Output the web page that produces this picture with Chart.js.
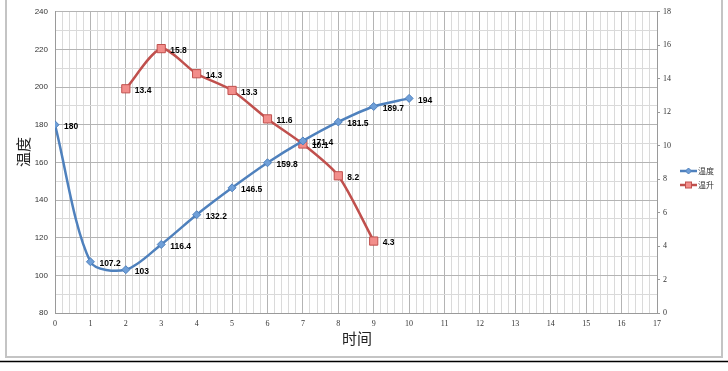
<!DOCTYPE html>
<html>
<head>
<meta charset="utf-8">
<script src="https://cdn.jsdelivr.net/npm/chart.js@4/dist/chart.umd.min.js"></script>
<style>
  html, body { margin: 0; padding: 0; background: #fff; }
  #wrap { position: relative; width: 728px; height: 371px; }
  canvas { display: block; }
</style>
</head>
<body>
<div id="wrap"><canvas id="c" width="728" height="371"></canvas></div>
<script>
// ---- data ----
const timeTemp = [0, 1, 2, 3, 4, 5, 6, 7, 8, 9, 10];
const tempValues = [180, 107.2, 103, 116.4, 132.2, 146.5, 159.8, 171.4, 181.5, 189.7, 194];
const timeRise = [2, 3, 4, 5, 6, 7, 8, 9];
const riseValues = [13.4, 15.8, 14.3, 13.3, 11.6, 10.1, 8.2, 4.3];
const seriesNames = ['温度', '温升'];
const xTitle = '时间';
const yTitle = '温度';

const BLUE = '#4F81BD';
const RED = '#C0504D';

const isMult = (v, m) => Math.abs(v / m - Math.round(v / m)) < 1e-6;

const framePlugin = {
  id: 'frame',
  beforeDraw(chart) {
    const ctx = chart.ctx;
    ctx.save();
    ctx.fillStyle = '#fff';
    ctx.fillRect(0, 0, chart.width, chart.height);
    ctx.strokeStyle = '#c4c4c4';
    ctx.lineWidth = 2;
    ctx.strokeRect(6, -3, 716, 360);
    ctx.strokeStyle = '#000';
    ctx.lineWidth = 1.5;
    ctx.beginPath();
    ctx.moveTo(0, 361.5);
    ctx.lineTo(chart.width, 361.5);
    ctx.stroke();
    ctx.restore();
  },
  afterDraw(chart) {
    const ctx = chart.ctx;
    ctx.save();
    ctx.fillStyle = '#222';
    ctx.font = '15px "Noto Sans CJK SC"';
    ctx.textAlign = 'center';
    ctx.textBaseline = 'middle';
    ctx.fillText(xTitle, 357, 338);
    ctx.translate(23, 152);
    ctx.rotate(-Math.PI / 2);
    ctx.fillText(yTitle, 0, 0);
    ctx.restore();

    // legend
    ctx.save();
    const items = [
      { name: seriesNames[0], color: BLUE, fill: '#6f9fd8', style: 'diamond', y: 171 },
      { name: seriesNames[1], color: RED, fill: '#F28E8B', style: 'square', y: 185 }
    ];
    items.forEach(it => {
      ctx.strokeStyle = it.color;
      ctx.lineWidth = 2.5;
      ctx.beginPath();
      ctx.moveTo(680, it.y);
      ctx.lineTo(697, it.y);
      ctx.stroke();
      ctx.fillStyle = it.fill;
      ctx.lineWidth = 1;
      ctx.strokeStyle = it.color;
      if (it.style === 'diamond') {
        ctx.beginPath();
        ctx.moveTo(688.5, it.y - 3);
        ctx.lineTo(691.5, it.y);
        ctx.lineTo(688.5, it.y + 3);
        ctx.lineTo(685.5, it.y);
        ctx.closePath();
        ctx.fill();
        ctx.stroke();
      } else {
        ctx.fillRect(685.5, it.y - 3, 6, 6);
        ctx.strokeRect(685.5, it.y - 3, 6, 6);
      }
      ctx.fillStyle = '#333';
      ctx.font = '8px "Noto Sans CJK SC"';
      ctx.textAlign = 'left';
      ctx.textBaseline = 'middle';
      ctx.fillText(it.name, 698, it.y);
    });
    ctx.restore();
  }
};

const labelPlugin = {
  id: 'dataLabels',
  afterDatasetsDraw(chart) {
    const ctx = chart.ctx;
    ctx.save();
    ctx.fillStyle = '#000';
    ctx.font = 'bold 8.5px "Liberation Sans"';
    ctx.textAlign = 'left';
    ctx.textBaseline = 'middle';
    chart.data.datasets.forEach((ds, i) => {
      const meta = chart.getDatasetMeta(i);
      meta.data.forEach((el, j) => {
        ctx.fillText(String(ds.data[j].y), el.x + 9, el.y + 2);
      });
    });
    ctx.restore();
  }
};

const gridColor = (ctx, major) => isMult(ctx.tick.value, major) ? '#b4b4b4' : '#dadada';

new Chart(document.getElementById('c'), {
  type: 'line',
  data: {
    datasets: [
      {
        label: seriesNames[0],
        data: timeTemp.map((t, i) => ({ x: t, y: tempValues[i] })),
        yAxisID: 'y',
        borderColor: BLUE,
        borderWidth: 2.5,
        backgroundColor: '#6f9fd8',
        pointStyle: 'rectRot',
        pointRadius: 4,
        pointBorderColor: BLUE,
        pointBorderWidth: 1,
        tension: 0.3,
        fill: false
      },
      {
        label: seriesNames[1],
        data: timeRise.map((t, i) => ({ x: t, y: riseValues[i] })),
        yAxisID: 'y1',
        borderColor: RED,
        borderWidth: 2.5,
        backgroundColor: '#F28E8B',
        pointStyle: 'rect',
        pointRadius: 5.8,
        pointBorderColor: '#C0504D',
        pointBorderWidth: 1,
        tension: 0.25,
        fill: false
      }
    ]
  },
  options: {
    responsive: false,
    animation: false,
    devicePixelRatio: 1,
    layout: { padding: { top: 9, left: 0, right: 0, bottom: 0 } },
    plugins: { legend: { display: false }, tooltip: { enabled: false } },
    scales: {
      x: {
        type: 'linear',
        min: 0, max: 17,
        afterFit(s) { s.height = 58; },
        border: { color: '#9a9a9a' },
        grid: { color: c => gridColor(c, 1), drawTicks: false },
        ticks: {
          stepSize: 0.2, autoSkip: false, maxRotation: 0, padding: 6,
          font: { size: 8, family: 'Liberation Serif' }, color: '#333',
          callback: v => isMult(v, 1) ? String(Math.round(v)) : ''
        }
      },
      y: {
        type: 'linear', position: 'left',
        min: 80, max: 240,
        afterFit(s) { s.width = 55; },
        border: { color: '#9a9a9a' },
        grid: { color: c => gridColor(c, 20), drawTicks: false },
        ticks: {
          stepSize: 10, autoSkip: false, padding: 7,
          font: { size: 8, family: 'Liberation Sans' }, color: '#333',
          callback: v => isMult(v, 20) ? String(v) : ''
        }
      },
      y1: {
        type: 'linear', position: 'right',
        min: 0, max: 18,
        afterFit(s) { s.width = 71; },
        border: { color: '#9a9a9a' },
        grid: { drawOnChartArea: false, tickLength: 3, color: '#9a9a9a' },
        ticks: {
          stepSize: 2, padding: 3,
          font: { size: 8, family: 'Liberation Serif' }, color: '#333'
        }
      }
    }
  },
  plugins: [framePlugin, labelPlugin]
});
</script>
</body>
</html>
